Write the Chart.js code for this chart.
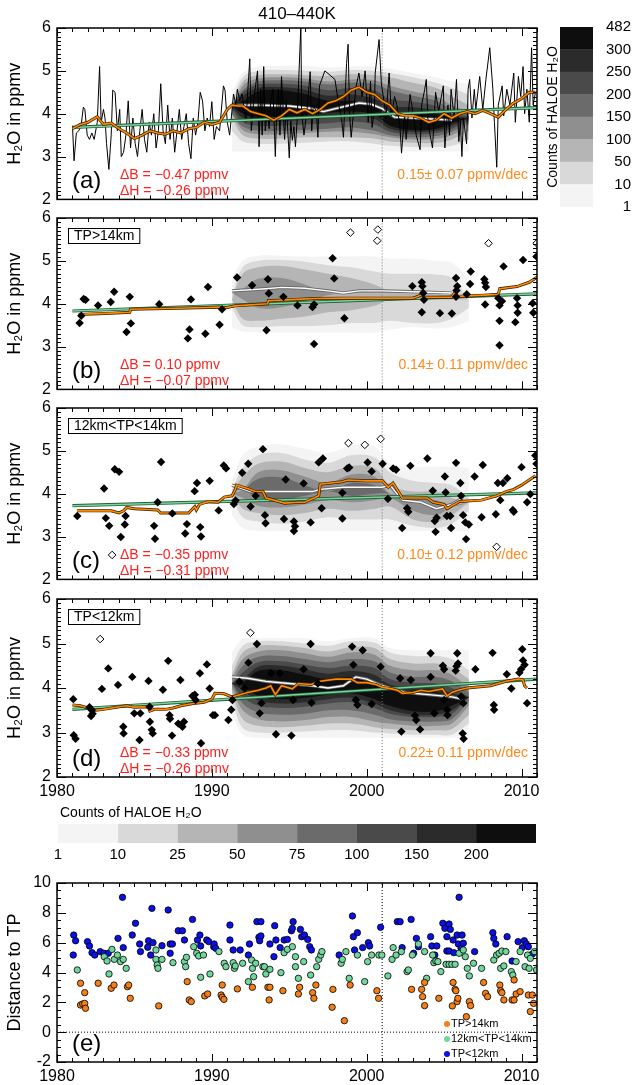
<!DOCTYPE html>
<html>
<head>
<meta charset="utf-8">
<script src="https://cdn.jsdelivr.net/npm/chart.js@4.4.1/dist/chart.umd.min.js"></script>
<style>
  body { margin: 0; background: #fff; width: 634px; height: 1085px; overflow: hidden; position: relative; }
  canvas { position: absolute; }
</style>
</head>
<body>
<canvas id="pa" width="545" height="215" style="left:0;top:0"></canvas>
<canvas id="pb" width="545" height="215" style="left:0;top:190px"></canvas>
<canvas id="pc" width="545" height="215" style="left:0;top:380px"></canvas>
<canvas id="pd" width="545" height="231" style="left:0;top:571px"></canvas>
<canvas id="cbb" width="545" height="65" style="left:0;top:800px"></canvas>
<canvas id="pe" width="545" height="229" style="left:0;top:855px"></canvas>
<canvas id="cbr" width="89" height="230" style="left:545px;top:0"></canvas>
<script>
// ---- data ----
const breakYear = 2001;
const fieldYears = [1991.3, 1992, 1993, 1994.5, 1996, 1997.5, 1999, 2000.5, 2001.5, 2003, 2004.5, 2005.5, 2006.6];
const greys = ['#f4f4f4', '#d9d9d9', '#b5b5b5', '#8f8f8f', '#6b6b6b', '#4a4a4a', '#2b2b2b', '#0e0e0e'];
const cbRightLabels = ['1', '10', '50', '100', '150', '200', '250', '300', '482'];
const cbBottomLabels = ['1', '10', '25', '50', '75', '100', '150', '200', ''];

// HALOE count field, one row per grey level (lower / upper edge)
const aLo = [
  [3.12,3.12,3.12,3.12,3.12,3.12,3.12,3.12,3.12,3.12,3.12,3.12,3.12],
  [3.6,3.35,3.3,3.3,3.32,3.35,3.35,3.3,3.25,3.22,3.22,3.25,3.4],
  [3.9,3.5,3.42,3.42,3.45,3.45,3.45,3.42,3.35,3.32,3.32,3.4,3.6],
  [4.0,3.62,3.52,3.52,3.55,3.58,3.58,3.52,3.45,3.4,3.42,3.5,3.75],
  [4.0,3.7,3.6,3.6,3.62,3.65,3.68,3.6,3.5,3.45,3.48,3.58,3.8],
  [4.1,3.8,3.72,3.72,3.75,3.78,3.82,3.75,3.58,3.52,3.55,3.65,3.85],
  [4.15,3.9,3.82,3.82,3.86,3.9,3.95,3.88,3.65,3.58,3.6,3.72,3.9],
  [4.2,4.0,3.9,3.9,3.95,4.02,4.05,3.98,3.72,3.62,3.65,3.78,3.9]
];
const aHi = [
  [4.5,4.95,5.1,5.12,5.12,5.08,5.1,5.1,5.05,4.95,4.85,4.75,4.7],
  [4.3,4.85,5.0,5.02,5.0,4.98,5.02,5.0,4.95,4.85,4.72,4.6,4.45],
  [4.1,4.75,4.9,4.92,4.9,4.88,4.92,4.9,4.85,4.72,4.6,4.4,4.2],
  [4.0,4.65,4.82,4.85,4.82,4.75,4.8,4.78,4.65,4.52,4.4,4.2,4.05],
  [4.2,4.55,4.75,4.78,4.75,4.68,4.72,4.7,4.55,4.42,4.3,4.1,4.0],
  [4.2,4.5,4.68,4.7,4.66,4.55,4.6,4.55,4.35,4.28,4.18,4.0,3.95],
  [4.2,4.42,4.6,4.62,4.56,4.42,4.45,4.35,4.18,4.15,4.08,3.95,3.9],
  [4.2,4.3,4.52,4.55,4.46,4.3,4.3,4.2,4.05,4.05,4.0,3.9,3.9]
];
const bLo = [
  [3.45,3.35,3.33,3.33,3.33,3.33,3.33,3.33,3.4,3.45,3.42,3.45,3.6],
  [3.9,3.5,3.45,3.48,3.48,3.5,3.55,3.55,3.6,3.55,3.55,3.65,3.9],
  [4.1,3.65,3.6,3.65,3.7,3.8,3.85,3.95,4.1,4.1,4.1,4.1,4.1],
  [4.25,4.1,3.9,3.92,4.05,4.2,4.25,4.25,4.25,4.25,4.25,4.25,4.25]
];
const bHi = [
  [4.6,5.0,5.12,5.12,5.1,5.1,5.1,5.1,5.05,5.05,5.0,4.95,4.6],
  [4.2,4.85,5.0,5.02,4.98,4.9,4.85,4.75,4.7,4.7,4.68,4.6,4.1],
  [4.1,4.7,4.85,4.88,4.8,4.7,4.6,4.45,4.3,4.3,4.25,4.15,4.1],
  [4.25,4.35,4.58,4.6,4.45,4.25,4.25,4.25,4.25,4.25,4.25,4.25,4.25]
];
const cLo = [
  [3.5,3.2,3.13,3.13,3.13,3.13,3.13,3.13,3.13,3.13,3.13,3.13,3.13],
  [3.9,3.45,3.35,3.3,3.35,3.45,3.4,3.4,3.4,3.25,3.2,3.3,3.6],
  [4.0,3.65,3.55,3.5,3.55,3.65,3.6,3.65,3.7,3.4,3.35,3.5,3.8],
  [4.0,3.9,3.72,3.68,3.75,3.85,3.8,3.85,3.9,3.6,3.5,3.7,3.8],
  [4.1,4.1,3.9,3.85,3.95,4.05,3.95,4.0,4.0,3.8,3.8,3.8,3.8]
];
const cHi = [
  [4.3,4.9,5.1,5.15,5.05,4.95,5.12,5.1,4.7,4.63,4.63,4.63,4.6],
  [4.1,4.6,4.9,4.95,4.8,4.72,4.9,4.85,4.5,4.3,4.25,4.2,3.9],
  [4.0,4.4,4.7,4.75,4.6,4.5,4.65,4.6,4.2,4.05,4.05,3.9,3.8],
  [4.0,4.1,4.5,4.55,4.4,4.25,4.45,4.4,4.0,3.9,3.85,3.7,3.8],
  [4.1,4.1,4.35,4.38,4.2,4.05,4.25,4.2,4.0,3.8,3.8,3.8,3.8]
];
const dLo = [
  [3.4,2.95,2.88,2.88,2.88,2.88,2.88,2.88,2.88,2.88,2.88,2.88,2.88],
  [3.7,3.1,3.0,3.0,3.02,3.05,3.05,3.0,2.98,2.95,2.95,2.95,3.2],
  [3.9,3.3,3.15,3.12,3.15,3.2,3.2,3.12,3.08,3.05,3.05,3.08,3.4],
  [4.0,3.5,3.3,3.25,3.28,3.35,3.35,3.25,3.2,3.15,3.15,3.2,3.6],
  [4.1,3.65,3.45,3.4,3.42,3.5,3.5,3.4,3.3,3.25,3.25,3.3,3.7],
  [4.1,3.8,3.6,3.55,3.58,3.65,3.68,3.55,3.42,3.35,3.35,3.42,3.8],
  [4.1,3.95,3.72,3.65,3.68,3.75,3.78,3.65,3.5,3.4,3.4,3.5,3.8],
  [4.1,4.05,3.82,3.75,3.78,3.85,3.88,3.75,3.6,3.48,3.48,3.6,3.8]
];
const dHi = [
  [4.8,5.1,5.12,5.12,5.12,5.05,5.12,5.12,4.9,4.85,4.85,4.85,4.85],
  [4.5,4.95,5.05,5.05,5.0,4.95,5.05,5.02,4.8,4.72,4.72,4.65,4.4],
  [4.3,4.8,4.95,4.95,4.9,4.82,4.92,4.9,4.65,4.55,4.55,4.45,4.2],
  [4.2,4.65,4.82,4.85,4.78,4.7,4.8,4.75,4.5,4.4,4.4,4.3,4.0],
  [4.1,4.5,4.7,4.72,4.65,4.58,4.65,4.6,4.35,4.25,4.25,4.15,3.9],
  [4.1,4.35,4.58,4.6,4.52,4.45,4.5,4.45,4.2,4.12,4.1,4.0,3.8],
  [4.1,4.2,4.48,4.5,4.42,4.32,4.38,4.3,4.08,4.0,3.98,3.88,3.8],
  [4.1,4.12,4.38,4.4,4.3,4.2,4.25,4.15,3.98,3.92,3.9,3.8,3.8]
];

// panel (a) monthly series
const aMonthly = [[1981.0,3.72],[1981.1,2.9],[1981.25,3.55],[1981.4,3.6],[1981.55,3.7],[1981.7,4.15],[1981.8,4.1],[1981.95,3.5],
  [1982.1,3.4],[1982.25,3.55],[1982.4,3.4],[1982.6,3.8],[1982.75,5.1],[1982.85,3.8],[1983.0,4.1],[1983.1,3.9],[1983.2,3.3],
  [1983.35,2.7],[1983.5,3.5],[1983.6,4.55],[1983.75,4.5],[1983.9,3.6],[1984.05,4.1],[1984.15,3.0],[1984.3,3.1],[1984.45,3.5],
  [1984.6,4.3],[1984.75,3.2],[1984.9,3.9],[1985.05,3.3],[1985.2,3.0],[1985.35,3.6],[1985.5,4.1],[1985.65,3.4],[1985.8,3.1],
  [1985.95,3.8],[1986.1,3.5],[1986.25,4.0],[1986.4,3.2],[1986.55,3.6],[1986.7,4.7],[1986.85,3.6],[1987.0,3.3],[1987.15,4.2],
  [1987.3,3.4],[1987.45,3.9],[1987.6,3.1],[1987.75,3.6],[1987.9,4.1],[1988.05,3.4],[1988.2,3.7],[1988.35,4.0],[1988.5,3.3],
  [1988.65,2.95],[1988.8,3.9],[1988.95,3.5],[1989.1,3.8],[1989.25,4.5],[1989.4,4.3],[1989.55,3.6],[1989.7,3.9],[1989.85,3.7],
  [1990.0,4.28],[1990.15,3.4],[1990.3,3.7],[1990.5,3.6],[1990.75,4.65],[1990.85,4.55],[1991.0,3.8],[1991.15,3.5],[1991.4,4.46],
  [1991.55,4.2],[1991.65,4.57],[1991.8,4.3],[1991.95,4.46],[1992.05,4.2],[1992.2,3.8],[1992.45,5.28],[1992.55,3.6],[1992.7,4.3],
  [1992.95,5.0],[1993.05,3.23],[1993.15,4.57],[1993.25,3.5],[1993.35,5.1],[1993.45,3.6],[1993.6,4.1],[1993.7,3.65],[1993.8,4.3],
  [1993.95,4.57],[1994.1,3.0],[1994.2,4.2],[1994.3,4.57],[1994.4,3.5],[1994.5,4.87],[1994.7,3.4],[1994.8,4.3],[1995.0,2.97],
  [1995.1,3.83],[1995.2,3.38],[1995.3,3.7],[1995.4,3.23],[1995.5,3.8],[1995.75,6.05],[1995.8,4.05],[1995.95,3.5],[1996.15,4.1],
  [1996.35,4.98],[1996.45,3.6],[1996.55,4.2],[1996.75,4.05],[1996.85,3.45],[1996.95,4.65],[1997.3,5.0],[1997.95,4.8],[1998.2,4.2],
  [1998.4,3.8],[1998.5,3.45],[1998.7,5.17],[1998.8,5.62],[1998.9,3.95],[1999.0,3.45],[1999.3,4.6],[1999.5,4.95],[1999.7,4.4],
  [1999.9,5.0],[2000.1,3.8],[2000.25,4.76],[2000.35,3.68],[2000.5,4.1],[2000.55,4.95],[2000.8,5.73],[2000.95,4.7],[2001.15,4.2],
  [2001.25,3.9],[2001.45,4.95],[2001.6,3.95],[2001.8,4.4],[2001.95,4.2],[2002.15,3.7],[2002.25,3.08],[2002.45,4.0],[2002.55,3.4],
  [2002.8,4.45],[2003.0,4.0],[2003.2,3.5],[2003.45,3.16],[2003.55,4.2],[2003.75,4.57],[2003.85,4.8],[2003.95,3.9],[2004.05,3.6],
  [2004.25,3.2],[2004.35,3.83],[2004.45,4.5],[2004.65,4.05],[2004.95,4.65],[2005.05,3.2],[2005.25,4.2],[2005.35,3.5],[2005.45,4.57],
  [2005.65,3.9],[2005.8,4.8],[2005.95,3.35],[2006.05,3.83],[2006.15,3.0],[2006.25,3.9],[2006.45,3.3],[2006.55,4.57],[2006.65,4.8],
  [2006.8,3.9],[2006.95,4.57],[2007.05,4.1],[2007.3,4.87],[2007.5,4.1],[2007.7,4.8],[2007.95,5.54],[2008.15,4.57],[2008.25,3.8],
  [2008.4,2.75],[2008.5,4.2],[2008.75,4.65],[2008.85,3.95],[2009.05,4.57],[2009.25,4.2],[2009.5,4.95],[2009.6,3.8],[2009.8,4.87],
  [2009.95,4.4],[2010.1,5.1],[2010.2,4.0],[2010.35,4.57],[2010.5,3.8],[2010.65,5.54],[2010.75,4.2],[2010.9,4.5]];
const aRunning = [[1981,3.65],[1981.5,3.75],[1982,3.8],[1982.6,3.93],[1983,3.75],[1983.5,3.78],[1984,3.65],[1984.5,3.55],[1985,3.42],
  [1985.5,3.5],[1986,3.6],[1986.5,3.55],[1987,3.52],[1987.5,3.6],[1988,3.55],[1988.5,3.65],[1989,3.68],[1989.5,3.8],[1990,3.75],
  [1990.5,3.8],[1991,4.1],[1991.3,4.2],[1991.7,4.18],[1992,4.18],[1992.5,4.05],[1993,4.0],[1993.5,3.95],[1994,3.85],[1994.5,3.95],
  [1995,4.1],[1995.5,4.02],[1996,4.1],[1996.5,4.0],[1997,4.1],[1997.5,4.25],[1998,4.3],[1998.5,4.4],[1999,4.55],[1999.5,4.62],
  [2000,4.5],[2000.5,4.45],[2001,4.3],[2001.5,4.2],[2002,4.0],[2002.5,3.95],[2003,3.95],[2003.5,3.9],[2004,3.8],[2004.5,3.85],
  [2005,4.0],[2005.5,3.9],[2006,4.0],[2006.5,4.05],[2007,4.0],[2007.5,4.08],[2008,4.0],[2008.5,3.92],[2009,4.1],[2009.5,4.25],
  [2010,4.35],[2010.5,4.5],[2010.9,4.5]];
const aHaloe = [[1991.3,4.2],[1993,4.2],[1995,4.18],[1996.5,4.12],[1997.2,4.05],[1998,4.12],[1999.5,4.25],[2000.3,4.22],[2001,4.12],
  [2001.8,3.92],[2003,3.9],[2004.5,3.87],[2005.5,3.85]];
const aTrend = [[1981,3.68],[2011,4.14]];

// panel (b) TP > 14 km
const bFilled = [[1981.46,3.55],[1981.57,3.72],[1981.72,4.11],[1981.85,4.09],[1982.65,3.96],[1983.47,4.04],[1983.69,4.28],
  [1984.49,3.34],[1984.7,4.16],[1984.77,3.54],[1986.6,3.99],[1988.45,3.19],[1988.56,3.4],[1988.65,4.1],[1989.58,3.3],[1989.75,4.39],
  [1990.5,3.51],[1990.66,3.87],[1991.63,4.61],[1992.6,4.43],[1993.53,3.38],[1993.62,4.57],[1993.68,4.24],[1994.62,4.16],[1995.53,3.96],
  [1996.5,3.92],[1996.6,3.98],[1996.6,3.06],[1997.8,5.06],[1997.9,4.59],[1998.56,3.66],[2002.95,4.41],[2003.56,4.5],[2003.6,4.41],
  [2003.65,4.25],[2003.7,4.09],[2003.56,3.8],[2004.73,3.78],[2005.5,3.77],[2005.77,4.6],[2005.85,4.41],[2005.8,4.31],[2005.77,4.16],
  [2006.46,4.22],[2006.72,4.75],[2006.68,4.46],[2007.6,4.57],[2007.65,4.49],[2007.7,4.39],[2007.65,3.98],[2008.5,4.13],[2008.58,3.96],
  [2008.58,3.6],[2008.58,3.03],[2008.84,4.87],[2008.74,4.06],[2009.6,3.57],[2009.71,4.13],[2009.75,3.96],[2009.75,3.79],[2010.1,5.02],
  [2010.72,4.01],[2010.76,3.79],[2010.97,5.1]];
const bOpen = [[1998.95,5.66],[2000.72,5.73],[2000.68,5.47],[2007.87,5.41],[2010.98,5.41]];
const bRunning = [[1981.4,3.75],[1983.5,3.78],[1984.7,3.8],[1984.75,3.87],[1988.5,3.9],[1990.5,3.92],[1990.6,3.88],[1991.5,3.95],
  [1993.6,4.0],[1993.65,4.07],[1995.5,4.1],[1996.6,4.12],[1998.5,4.13],[2003,4.13],[2003.5,4.2],[2003.6,4.27],[2003.7,4.15],
  [2005.5,4.15],[2005.75,4.3],[2005.85,4.17],[2007.6,4.2],[2008.5,4.22],[2008.6,4.35],[2009.7,4.4],[2010.5,4.5],[2011,4.62]];
const bHaloe = [[1991.3,4.3],[1993.5,4.35],[1994.5,4.38],[1996,4.36],[1997.5,4.3],[1998.5,4.25],[1999.5,4.3],[2001,4.3],[2003,4.28],[2005.5,4.25]];
const bTrend = [[1981,3.83],[2011,4.23]];

// panel (c) 12 km < TP < 14 km
const cFilled = [[1981.31,3.48],[1983.04,4.12],[1983.15,3.43],[1983.37,3.25],[1983.73,4.57],[1984.01,4.51],[1984.12,2.99],[1984.43,3.48],
  [1984.38,3.28],[1986.27,3.25],[1986.33,2.95],[1986.5,3.8],[1986.72,4.74],[1987.45,3.54],[1988.28,3.07],[1988.39,3.29],[1988.89,4.06],
  [1989.04,4.25],[1989.25,3.22],[1989.3,3.0],[1989.86,4.3],[1990.44,3.61],[1990.77,4.66],[1990.92,4.59],[1991.42,3.76],[1991.53,3.84],
  [1991.96,4.49],[1992.35,4.7],[1992.5,3.7],[1992.83,3.95],[1993.3,5.04],[1993.43,3.5],[1993.47,3.31],[1994.77,4.33],[1994.66,3.41],
  [1995.3,3.35],[1995.37,3.24],[1995.3,3.13],[1995.93,4.24],[1996.38,3.33],[1996.9,4.73],[1997.17,4.82],[1997.09,3.66],[1998.43,3.42],
  [1998.43,4.02],[1998.74,4.59],[1998.87,4.61],[2000.06,4.73],[2000.32,4.52],[2001.03,4.7],[2001.37,3.88],[2001.71,4.59],[2001.9,4.56],
  [2002.82,4.65],[2002.61,3.66],[2002.69,3.58],[2002.29,3.2],[2003.92,4.82],[2004.27,4.07],[2004.4,3.36],[2004.52,3.44],[2004.45,3.11],
  [2005.05,4.4],[2005.1,4.03],[2005.18,3.48],[2005.4,3.48],[2005.45,3.2],[2005.77,4.72],[2006.05,4.25],[2006.1,3.95],[2006.23,3.5],
  [2006.37,3.33],[2006.42,2.94],[2006.6,3.28],[2006.97,4.4],[2007.42,3.45],[2007.5,4.67],[2008.34,3.52],[2008.47,4.25],[2008.63,3.85],
  [2008.8,4.25],[2009.08,4.36],[2009.44,3.62],[2009.5,3.58],[2010.0,4.62],[2010.36,3.8],[2010.57,3.99],[2010.89,4.89],[2010.97,4.7]];
const cOpen = [[1983.56,2.57],[1998.82,5.18],[1999.88,5.14],[2000.9,5.28],[2008.39,2.76]];
const cRunning = [[1981.3,3.6],[1983.5,3.6],[1984,3.55],[1984.3,3.6],[1984.5,3.68],[1985,3.65],[1986.5,3.62],[1986.7,3.55],[1988.5,3.55],
  [1988.9,3.7],[1989,3.62],[1989.2,3.75],[1989.8,3.82],[1990.4,3.8],[1990.8,3.92],[1991.3,3.95],[1991.5,4.08],[1991.6,4.2],[1992.3,4.12],
  [1992.8,4.05],[1993.3,4.05],[1993.5,3.9],[1994.7,3.78],[1995.6,3.8],[1996,3.8],[1996.9,3.95],[1997,4.22],[1998.4,4.28],[1998.8,4.32],
  [2000,4.3],[2001,4.3],[2001.4,4.15],[2001.7,4.25],[2002.3,3.9],[2003.9,3.9],[2004.3,3.8],[2005,3.75],[2005.2,3.65],[2005.5,3.72],
  [2006,3.82],[2007.4,3.85],[2008.4,3.95],[2009,4.05],[2009.5,4.1],[2010,4.2],[2010.9,4.42]];
const cHaloe = [[1991.3,4.2],[1992.5,4.05],[1993.5,4.05],[1995,4.05],[1996.5,4.05],[1997,4.1],[1998.5,4.15],[2000,4.15],[2001,4.15],
  [2001.5,4.2],[2002.3,3.85],[2003.5,3.8],[2004.5,3.65],[2005.5,3.75],[2006.2,3.9]];
const cTrend = [[1981,3.72],[2011,4.02]];

// panel (d) TP < 12 km
const dFilled = [[1981.05,3.75],[1981.08,2.94],[1981.2,2.86],[1982.1,3.57],[1982.2,3.37],[1982.3,3.42],[1982.25,3.5],[1982.9,3.98],
  [1983.31,4.44],[1983.94,4.07],[1984.28,3.13],[1984.3,2.98],[1984.86,4.25],[1984.99,3.43],[1985.33,2.83],[1985.38,3.43],[1985.91,4.16],
  [1985.98,3.58],[1986.0,3.24],[1986.12,3.06],[1986.18,2.98],[1986.84,3.96],[1987.18,4.61],[1987.27,3.39],[1987.3,3.31],[1987.43,2.93],
  [1987.83,3.2],[1987.97,4.18],[1988.1,3.13],[1988.2,3.24],[1988.75,3.82],[1988.9,3.85],[1988.95,3.73],[1989.23,4.33],[1989.3,2.76],
  [1989.68,4.53],[1989.86,3.99],[1990.07,3.39],[1990.2,3.39],[1991.07,3.28],[1991.25,3.51],[1991.33,3.73],[1991.78,4.14],[1992.12,3.99],
  [1992.36,4.57],[1992.91,4.99],[1993.09,3.43],[1993.2,3.66],[1993.82,4.33],[1994.14,2.96],[1994.4,4.33],[1995.14,2.93],[1995.25,3.73],
  [1995.93,4.42],[1996.38,4.99],[1996.44,3.67],[1996.85,4.1],[1999.06,4.93],[1999.14,4.52],[1999.3,3.73],[1999.4,3.62],[1999.74,4.85],
  [2000.32,3.64],[2000.9,4.48],[2002.16,4.22],[2002.24,3.02],[2002.85,4.18],[2003.12,3.38],[2003.2,3.28],[2003.45,3.07],[2004.13,4.78],
  [2004.13,4.25],[2004.37,3.43],[2004.92,4.5],[2005.0,4.42],[2005.0,3.73],[2005.2,3.51],[2005.22,3.39],[2005.85,4.78],[2005.8,4.49],
  [2005.75,4.39],[2005.9,4.55],[2006.11,3.81],[2006.24,3.66],[2006.2,2.98],[2006.26,2.86],[2007.02,4.42],[2008.13,4.79],[2008.21,3.62],
  [2008.23,3.51],[2009.05,4.31],[2009.34,3.99],[2009.86,4.34],[2009.97,4.42],[2010.05,4.87],[2010.1,4.62],[2010.2,4.52],[2010.36,3.66]];
const dOpen = [[1982.79,5.1],[1992.49,5.24]];
const dRunning = [[1981,3.62],[1981.5,3.6],[1982,3.55],[1982.5,3.5],[1983,3.52],[1984,3.58],[1984.5,3.6],[1985,3.57],[1985.9,3.58],
  [1986,3.48],[1986.3,3.52],[1987,3.52],[1987.5,3.55],[1988,3.6],[1988.8,3.65],[1989.5,3.68],[1990,3.75],[1990.2,3.88],[1990.8,3.87],
  [1991.3,3.8],[1991.8,3.85],[1992.3,3.9],[1993,3.95],[1993.5,4.0],[1993.8,4.05],[1994.1,3.85],[1994.5,4.05],[1995.2,3.98],[1995.6,4.1],
  [1996.4,4.08],[1997,4.15],[1998,4.2],[1999,4.2],[1999.4,4.12],[2000,4.12],[2000.6,4.08],[2001,4.02],[2001.6,3.98],[2002,3.95],
  [2002.3,3.88],[2003,3.9],[2003.5,3.95],[2004,3.92],[2004.9,3.98],[2005.2,3.82],[2005.5,3.9],[2005.9,3.95],[2006.5,4.0],[2008,4.05],
  [2009,4.15],[2009.8,4.2],[2010.1,4.18],[2010.2,4.05],[2010.35,4.0]];
const dHaloe = [[1991.3,4.25],[1992.3,4.22],[1993.5,4.15],[1995,4.1],[1996.5,4.05],[1997.5,4.0],[1998.5,4.05],[1999.3,4.25],[2000,4.2],
  [2001,4.05],[2002.5,3.9],[2004,3.85],[2005.5,3.8],[2006.2,3.75]];
const dTrend = [[1981,3.52],[2011,4.2]];

// panel (e) distance to tropopause
const eHigh = [[1981.52,1.82],[1981.66,1.89],[1981.79,1.93],[1981.84,1.6],[1981.79,2.65],[1981.52,3.28],[1982.66,3.28],[1983.5,2.94],
  [1983.68,3.16],[1984.55,3.05],[1984.63,3.16],[1984.73,2.27],[1986.57,1.76],[1988.41,3.39],[1988.54,2.16],[1988.67,2.05],[1989.54,2.43],
  [1989.73,2.56],[1990.6,2.49],[1990.67,2.34],[1990.78,2.2],[1990.67,3.16],[1991.65,2.9],[1992.62,3.01],[1993.62,3.01],[1993.7,2.16],
  [1993.75,3.01],[1994.59,2.78],[1995.59,2.56],[1995.67,3.01],[1996.51,2.65],[1996.59,2.27],[1996.72,3.16],[1997.82,2.87],[1997.77,1.67],
  [1998.56,0.77],[1998.93,3.16],[2000.66,2.78],[2000.77,2.27],[2002.9,2.87],[2003.55,2.87],[2003.61,2.38],[2003.74,1.78],[2003.74,3.33],
  [2004.66,2.27],[2005.58,3.33],[2005.71,2.87],[2005.76,2.78],[2005.53,1.76],[2005.84,2.05],[2005.89,2.27],[2006.44,1.04],[2006.63,2.05],
  [2006.71,1.78],[2007.55,3.33],[2007.68,2.6],[2007.81,2.38],[2008.6,3.16],[2008.65,2.78],[2008.73,2.65],[2008.86,2.16],[2009.39,2.16],
  [2009.52,2.16],[2009.52,3.5],[2009.65,2.56],[2009.91,2.72],[2010.57,1.38],[2010.44,2.49],[2010.7,2.49],[2010.78,1.93]];
const eMid = [[1981.31,4.17],[1983.05,5.06],[1983.23,4.77],[1983.55,5.55],[1983.36,3.9],[1983.7,4.88],[1983.9,5.17],[1984.1,4.73],
  [1984.28,4.88],[1984.47,4.28],[1986.39,5.51],[1986.39,4.88],[1986.47,4.5],[1986.52,4.28],[1986.78,4.88],[1987.49,4.66],[1988.23,4.73],
  [1988.36,5.02],[1988.31,4.39],[1988.83,5.73],[1989.02,5.29],[1989.15,5.11],[1989.28,3.68],[1989.46,5.17],[1989.88,3.9],[1990.46,5.4],
  [1990.8,4.62],[1990.91,4.39],[1991.38,4.66],[1991.46,4.28],[1991.51,4.44],[1991.99,4.62],[1992.36,3.39],[1992.57,4.84],[1992.62,4.28],
  [1992.7,3.72],[1992.83,4.62],[1993.3,4.39],[1993.4,4.39],[1993.49,3.9],[1993.75,4.21],[1994.46,3.99],[1994.67,5.33],[1994.88,5.55],
  [1995.2,5.73],[1995.4,5.06],[1995.4,4.39],[1995.59,3.61],[1995.93,4.73],[1996.38,3.83],[1996.77,4.39],[1996.9,4.88],[1997.03,5.17],
  [1997.11,5.4],[1998.35,4.62],[1998.43,4.88],[1998.66,5.4],[1998.87,3.61],[1999.4,5.17],[1999.87,3.39],[2000.06,4.73],[2000.32,5.17],
  [2000.79,5.17],[2000.98,5.17],[2001.37,3.77],[2001.64,4.88],[2001.71,5.67],[2001.9,5.17],[2002.24,5.4],[2002.61,4.06],[2002.69,4.17],
  [2002.95,5.17],[2003.34,5.91],[2003.74,5.4],[2003.87,3.61],[2004.26,5.17],[2004.34,4.66],[2004.47,4.77],[2004.6,4.73],[2004.79,4.06],
  [2005.13,4.55],[2005.32,4.55],[2005.5,4.55],[2005.71,4.55],[2005.97,5.29],[2006.24,5.51],[2006.37,5.06],[2006.5,4.28],[2006.63,3.77],
  [2006.9,4.62],[2007.42,4.28],[2008.21,4.84],[2008.39,5.17],[2008.55,5.29],[2008.65,4.28],[2008.73,5.44],[2008.86,4.44],[2008.99,5.4],
  [2009.34,4.06],[2009.44,3.83],[2009.65,4.73],[2009.91,5.4],[2010.23,4.39],[2010.39,5.17],[2010.49,4.28],[2010.57,4.95],[2010.84,5.4],
  [2010.97,4.17]];
const eLow = [[1981.05,5.17],[1981.08,6.51],[1981.2,6.13],[1981.97,6.07],[1982.1,5.78],[1982.26,5.33],[1982.44,5.17],[1982.79,5.4],
  [1983.02,5.29],[1983.31,5.29],[1983.94,6.29],[1984.23,9.04],[1984.28,5.67],[1984.86,6.51],[1985.07,7.3],[1985.34,5.91],[1985.39,5.4],
  [1985.86,5.69],[1985.91,6.13],[1986.05,5.17],[1986.13,8.3],[1986.2,6.0],[1986.78,5.8],[1987.18,8.19],[1987.31,5.29],[1987.31,5.91],
  [1987.45,5.91],[1987.83,6.8],[1988.1,6.8],[1988.23,6.18],[1988.75,7.56],[1989.07,6.18],[1989.23,6.51],[1989.28,5.78],[1989.67,6.18],
  [1989.8,6.07],[1990.12,5.73],[1990.15,5.91],[1990.25,5.62],[1991.17,7.18],[1991.17,6.18],[1991.38,5.51],[1991.83,5.51],[1992.36,5.17],
  [1992.43,5.91],[1992.91,7.41],[1993.17,7.41],[1993.04,6.36],[1993.09,6.13],[1993.17,6.45],[1993.75,5.91],[1994.01,5.06],[1994.06,7.14],
  [1994.14,6.18],[1994.41,5.67],[1994.67,6.18],[1994.88,6.22],[1995.14,6.8],[1995.2,6.96],[1995.25,7.41],[1995.72,6.89],[1995.8,6.4],
  [1995.98,6.51],[1996.19,6.22],[1996.32,5.73],[1996.43,5.51],[1998.22,5.17],[1999.08,7.79],[1999.14,6.4],[1999.22,5.51],[1999.4,6.67],
  [1999.74,5.67],[2000.11,6.0],[2000.19,5.78],[2000.9,7.03],[2001.98,7.41],[2002.16,7.41],[2002.29,5.67],[2002.87,7.56],[2003.03,5.29],
  [2003.21,6.29],[2003.34,5.73],[2004.13,6.4],[2004.21,5.78],[2004.4,5.17],[2004.53,5.78],[2004.92,7.3],[2005.05,6.96],[2005.18,6.4],
  [2005.18,5.44],[2005.32,7.25],[2005.32,5.44],[2005.4,6.89],[2005.58,6.18],[2005.63,5.33],[2005.84,6.51],[2005.92,5.91],[2005.97,9.04],
  [2006.1,5.62],[2006.16,6.51],[2006.24,5.96],[2006.97,5.4],[2008.15,6.67],[2008.21,6.29],[2008.34,5.91],[2009.07,6.4],[2009.39,4.77],
  [2009.78,6.07],[2010.05,5.67],[2010.18,6.13],[2010.31,5.91],[2010.44,5.73],[2010.7,5.24]];

// ---- drawing ----
const FONT = "'Liberation Sans', Arial, sans-serif";
Chart.defaults.font.family = FONT;
Chart.defaults.color = '#000';

function pts(pairs) { return pairs.map(p => ({ x: p[0], y: p[1] })); }

// filled grey bands: lower edge line + upper edge line filled down to it
function fieldSets(lo, hi) {
  const sets = [];
  lo.forEach((row, k) => {
    const common = { borderWidth: 0, borderColor: 'rgba(0,0,0,0)', pointRadius: 0, tension: 0.35, order: 100 - k };
    sets.push(Object.assign({ data: pts(fieldYears.map((x, i) => [x, row[i]])), fill: false }, common));
    sets.push(Object.assign({ data: pts(fieldYears.map((x, i) => [x, hi[k][i]])), fill: '-1', backgroundColor: greys[k] }, common));
  });
  return sets;
}

function lineSet(pairs, color, width, order) {
  return { data: pts(pairs), borderColor: color, borderWidth: width, pointRadius: 0, fill: false, tension: 0, order: order };
}

function panelSets(lo, hi, haloe, trend, running, extra) {
  let sets = fieldSets(lo, hi);
  sets.push({ data: [{ x: breakYear, y: 2 }, { x: breakYear, y: 6 }], borderColor: '#777', borderWidth: 1,
    borderDash: [1, 2], pointRadius: 0, order: 20 });
  sets.push(lineSet(haloe, '#666', 3.2, 12));
  sets.push(lineSet(haloe, '#fff', 1.4, 11));
  sets = sets.concat(extra || []);
  sets.push(lineSet(trend, '#1f5e38', 3.2, 8));
  sets.push(lineSet(trend, '#7fd29b', 1.5, 7));
  sets.push(lineSet(running, '#3a1f00', 3.0, 6));
  sets.push(lineSet(running, '#ff8a00', 1.6, 5));
  return sets;
}

function diamonds(filled, open) {
  return [
    { data: pts(filled), showLine: false, pointStyle: 'rectRot', pointRadius: 4.2, pointBackgroundColor: '#000',
      pointBorderColor: '#000', pointBorderWidth: 0, order: 1 },
    { data: pts(open), showLine: false, pointStyle: 'rectRot', pointRadius: 3.8, pointBackgroundColor: '#fff',
      pointBorderColor: '#000', pointBorderWidth: 1, order: 1 }
  ];
}

// frame with inward ticks on all four sides
const frame = {
  id: 'frame',
  afterDatasetsDraw(chart, args, o) {
    const { ctx, chartArea: a, scales: { x, y } } = chart;
    ctx.save();
    ctx.strokeStyle = '#000';
    ctx.lineWidth = 1;
    const nx = Math.round((x.max - x.min) / o.xMinor);
    for (let i = 0; i <= nx; i++) {
      const v = x.min + i * o.xMinor;
      const px = Math.round(x.getPixelForValue(v)) + 0.5;
      const len = Math.abs(v / o.xMajor - Math.round(v / o.xMajor)) < 1e-6 ? 8 : 4;
      ctx.beginPath();
      ctx.moveTo(px, a.bottom); ctx.lineTo(px, a.bottom - len);
      ctx.moveTo(px, a.top); ctx.lineTo(px, a.top + len);
      ctx.stroke();
    }
    const ny = Math.round((y.max - y.min) / o.yMinor);
    for (let i = 0; i <= ny; i++) {
      const v = y.min + i * o.yMinor;
      const py = Math.round(y.getPixelForValue(v)) + 0.5;
      const len = Math.abs(v / o.yMajor - Math.round(v / o.yMajor)) < 1e-6 ? 9 : 4;
      ctx.beginPath();
      ctx.moveTo(a.left, py); ctx.lineTo(a.left + len, py);
      ctx.moveTo(a.right, py); ctx.lineTo(a.right - len, py);
      ctx.stroke();
    }
    ctx.lineWidth = 1.5;
    ctx.strokeRect(a.left, a.top, a.right - a.left, a.bottom - a.top);
    ctx.restore();
  }
};

// text labels inside the panels
const notes = {
  id: 'notes',
  afterDraw(chart, args, o) {
    const { ctx, chartArea: a } = chart;
    ctx.save();
    ctx.textBaseline = 'middle';
    if (o.title) {
      ctx.font = '17px ' + FONT; ctx.fillStyle = '#000'; ctx.textAlign = 'center';
      ctx.fillText(o.title, (a.left + a.right) / 2, 14);
    }
    if (o.cbTitle) {
      ctx.font = '14px ' + FONT; ctx.fillStyle = '#000'; ctx.textAlign = 'left';
      ctx.fillText(o.cbTitle, a.left + 2, 13);
    }
    if (o.tag) {
      ctx.font = '24px ' + FONT; ctx.fillStyle = '#000'; ctx.textAlign = 'left';
      ctx.fillText(o.tag, a.left + 15, a.bottom - 18);
    }
    if (o.dB) {
      ctx.font = '14px ' + FONT; ctx.fillStyle = '#ff1f1f'; ctx.textAlign = 'left';
      ctx.fillText(o.dB, a.left + 63, a.bottom - 24);
      ctx.fillText(o.dH, a.left + 63, a.bottom - 8);
      ctx.fillStyle = '#ff8a1c'; ctx.textAlign = 'right';
      ctx.fillText(o.slope, a.right - 9, a.bottom - 24);
    }
    if (o.box) {
      ctx.font = '14px ' + FONT; ctx.textAlign = 'left';
      const w = ctx.measureText(o.box).width + 11;
      ctx.fillStyle = '#fff'; ctx.fillRect(a.left + 11, a.top + 10, w, 15);
      ctx.strokeStyle = '#000'; ctx.lineWidth = 1; ctx.strokeRect(a.left + 11.5, a.top + 10.5, w, 15);
      ctx.fillStyle = '#000'; ctx.fillText(o.box, a.left + 17, a.top + 18.5);
    }
    if (o.legend) {
      ctx.font = '11px ' + FONT; ctx.textAlign = 'left';
      o.legend.forEach((item, i) => {
        const yy = a.bottom - 38 + i * 15;
        ctx.fillStyle = item[1];
        ctx.beginPath(); ctx.arc(a.left + 390, yy, 3, 0, Math.PI * 2); ctx.fill();
        ctx.fillStyle = '#000'; ctx.fillText(item[0], a.left + 394, yy);
      });
    }
    ctx.restore();
  }
};

function panel(id, datasets, note, opts) {
  return new Chart(document.getElementById(id), {
    type: 'line',
    data: { datasets: datasets },
    options: {
      responsive: false, animation: false, devicePixelRatio: 1, events: [],
      layout: { padding: { top: 28, right: 8, left: 0, bottom: 0 } },
      plugins: { legend: { display: false }, tooltip: { enabled: false }, notes: note,
        frame: { xMinor: 1, xMajor: 10, yMinor: opts.yMinor, yMajor: opts.yMajor } },
      scales: {
        x: { type: 'linear', min: 1980, max: 2011,
          grid: { display: false, drawTicks: false }, border: { display: false },
          ticks: { display: opts.showX, stepSize: 10, includeBounds: false, font: { size: 16 }, padding: 5,
            maxRotation: 0, autoSkip: false, callback: v => String(v) },
          afterFit: s => { s.height = opts.showX ? opts.xh : 10; } },
        y: { min: opts.yMin, max: opts.yMax,
          grid: { display: false, drawTicks: false }, border: { display: false },
          ticks: { stepSize: opts.yMajor, font: { size: 16 }, padding: 6, autoSkip: false },
          title: { display: true, text: opts.yTitle, font: { size: 18 }, padding: { top: 4, bottom: 0 } },
          afterFit: s => { s.width = 57; } }
      }
    },
    plugins: [frame, notes]
  });
}

const h2o = { yMin: 2, yMax: 6, yMinor: 0.1, yMajor: 1, yTitle: 'H₂O in ppmv', showX: false };

panel('pa',
  panelSets(aLo, aHi, aHaloe, aTrend, aRunning, [lineSet(aMonthly, '#000', 1, 10)]),
  { title: '410–440K', tag: '(a)', dB: 'ΔB = −0.47 ppmv', dH: 'ΔH = −0.26 ppmv', slope: '0.15± 0.07 ppmv/dec' }, h2o);

panel('pb',
  panelSets(bLo, bHi, bHaloe, bTrend, bRunning).concat(diamonds(bFilled, bOpen)),
  { tag: '(b)', box: 'TP>14km', dB: 'ΔB = 0.10 ppmv', dH: 'ΔH = −0.07 ppmv', slope: '0.14± 0.11 ppmv/dec' }, h2o);

panel('pc',
  panelSets(cLo, cHi, cHaloe, cTrend, cRunning).concat(diamonds(cFilled, cOpen)),
  { tag: '(c)', box: '12km<TP<14km', dB: 'ΔB = −0.35 ppmv', dH: 'ΔH = −0.31 ppmv', slope: '0.10± 0.12 ppmv/dec' }, h2o);

panel('pd',
  panelSets(dLo, dHi, dHaloe, dTrend, dRunning).concat(diamonds(dFilled, dOpen)),
  { tag: '(d)', box: 'TP<12km', dB: 'ΔB = −0.33 ppmv', dH: 'ΔH = −0.26 ppmv', slope: '0.22± 0.11 ppmv/dec' },
  Object.assign({}, h2o, { showX: true, xh: 25 }));

function dots(pairs, color) {
  return { data: pts(pairs), showLine: false, pointRadius: 3.2, pointBackgroundColor: color,
    pointBorderColor: '#000', pointBorderWidth: 0.8, order: 1 };
}

panel('pe', [
    { data: [{ x: 1980, y: 0 }, { x: 2011, y: 0 }], borderColor: '#000', borderWidth: 1, borderDash: [1, 2], pointRadius: 0, order: 20 },
    { data: [{ x: breakYear, y: -2 }, { x: breakYear, y: 10 }], borderColor: '#000', borderWidth: 1, borderDash: [1, 2], pointRadius: 0, order: 20 },
    dots(eHigh, '#f57f17'),
    dots(eMid, '#72d69c'),
    dots(eLow, '#0a10e8')
  ],
  { tag: '(e)', legend: [['TP>14km', '#f57f17'], ['12km<TP<14km', '#72d69c'], ['TP<12km', '#0a10e8']] },
  { yMin: -2, yMax: 10, yMinor: 0.5, yMajor: 2, yTitle: 'Distance to TP', showX: true, xh: 22 });

// colour bar on the right of panel (a)
new Chart(document.getElementById('cbr'), {
  type: 'bar',
  data: { labels: [''], datasets: greys.map(c => ({ data: [1], backgroundColor: c, stack: 's', barPercentage: 1, categoryPercentage: 1 })) },
  options: {
    responsive: false, animation: false, devicePixelRatio: 1, events: [],
    layout: { padding: { top: 27, bottom: 23, left: 0, right: 3 } },
    plugins: { legend: { display: false }, tooltip: { enabled: false } },
    scales: {
      x: { display: false, stacked: true },
      y: { stacked: true, position: 'right', min: 0, max: 8,
        grid: { display: false, drawTicks: false }, border: { display: false },
        ticks: { stepSize: 1, autoSkip: false, crossAlign: 'far', font: { size: 15 }, callback: v => cbRightLabels[v] },
        afterFit: s => { s.width = 38; } },
      yl: { position: 'left', min: 0, max: 8,
        grid: { display: false, drawTicks: false }, border: { display: false }, ticks: { display: false },
        title: { display: true, text: 'Counts of HALOE H₂O', font: { size: 14 }, padding: 0 },
        afterFit: s => { s.width = 15; } }
    }
  }
});

// horizontal colour bar between (d) and (e)
new Chart(document.getElementById('cbb'), {
  type: 'bar',
  data: { labels: [''], datasets: greys.map(c => ({ data: [1], backgroundColor: c, stack: 's', barPercentage: 1, categoryPercentage: 1 })) },
  options: {
    indexAxis: 'y', responsive: false, animation: false, devicePixelRatio: 1, events: [],
    layout: { padding: { top: 24, left: 58, right: 9, bottom: 0 } },
    plugins: { legend: { display: false }, tooltip: { enabled: false }, notes: { cbTitle: 'Counts of HALOE H₂O' } },
    scales: {
      y: { display: false, stacked: true },
      x: { stacked: true, min: 0, max: 8,
        grid: { display: false, drawTicks: false }, border: { display: false },
        ticks: { stepSize: 1, autoSkip: false, maxRotation: 0, font: { size: 15 }, padding: 3, callback: v => cbBottomLabels[v] },
        afterFit: s => { s.height = 22; } }
    }
  },
  plugins: [notes]
});
</script>
</body>
</html>
